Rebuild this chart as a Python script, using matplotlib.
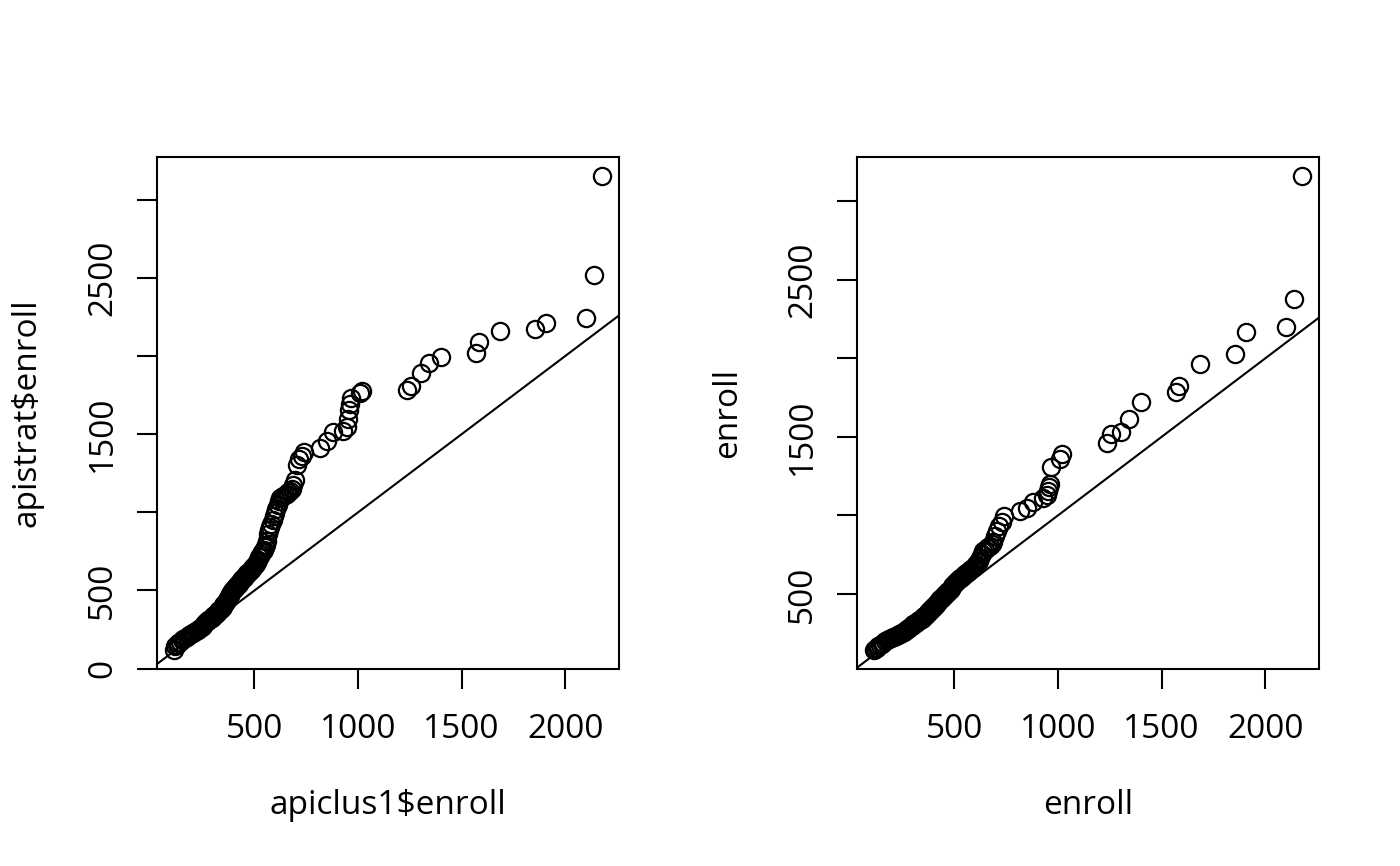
import matplotlib
matplotlib.use("Agg")
import matplotlib.pyplot as plt
from matplotlib.ticker import MultipleLocator, FuncFormatter

# Sorted apiclus1 enrollment (x quantiles, shared by both panels)
x_quant = [
    112, 118, 125, 133, 140, 150, 157, 165, 175, 185,
    195, 202, 210, 218, 225, 232, 238, 245, 250, 256,
    262, 268, 272, 278, 282, 287, 291, 294, 298, 302,
    306, 310, 314, 318, 322, 326, 330, 334, 338, 342,
    346, 350, 354, 358, 362, 366, 370, 373, 376, 380,
    383, 386, 390, 393, 396, 400, 403, 406, 410, 413,
    416, 420, 423, 426, 430, 433, 437, 440, 444, 447,
    451, 455, 458, 462, 466, 470, 474, 478, 482, 486,
    490, 494, 498, 502, 507, 511, 516, 520, 525, 530,
    535, 540, 545, 550, 555, 560, 565, 570, 576, 582,
    588, 594, 600, 606, 612, 618, 625, 632, 640, 648,
    656, 664, 672, 680, 688, 696, 704, 715, 728, 739,
    817, 849, 878, 926, 945, 952, 956, 961, 968, 1009,
    1019, 1238, 1257, 1302, 1341, 1400, 1569, 1582, 1685, 1854,
    1905, 2101, 2141, 2177,
]

# apistrat$enroll quantiles (left panel)
y_strat = [
    119, 142, 150, 166, 172, 180, 187, 195, 203, 212,
    221, 227, 234, 241, 247, 253, 259, 268, 275, 283,
    292, 298, 302, 309, 313, 318, 321, 324, 329, 335,
    340, 346, 351, 357, 361, 366, 372, 378, 384, 389,
    397, 404, 412, 420, 428, 436, 443, 451, 459, 467,
    475, 484, 494, 499, 503, 508, 512, 517, 523, 527,
    531, 539, 544, 550, 557, 562, 569, 574, 579, 583,
    589, 594, 598, 604, 609, 614, 619, 625, 630, 636,
    642, 648, 655, 663, 672, 684, 697, 713, 722, 735,
    745, 752, 762, 775, 790, 815, 860, 890, 905, 928,
    950, 978, 995, 1020, 1045, 1072, 1090, 1098, 1106, 1113,
    1120, 1128, 1135, 1150, 1172, 1204, 1303, 1340, 1362, 1383,
    1412, 1459, 1511, 1518, 1546, 1595, 1654, 1693, 1729, 1762,
    1775, 1783, 1811, 1891, 1954, 1993, 2021, 2090, 2162, 2170,
    2214, 2242, 2518, 3152,
]

# design-weighted enroll quantiles (right panel)
y_svy = [
    142, 150, 158, 170, 176, 183, 188, 198, 205, 212,
    218, 223, 228, 234, 238, 242, 246, 250, 255, 260,
    265, 270, 274, 278, 282, 287, 292, 296, 301, 305,
    309, 312, 316, 320, 324, 328, 332, 335, 339, 342,
    347, 352, 356, 360, 366, 373, 379, 383, 388, 393,
    397, 401, 405, 409, 413, 418, 423, 428, 432, 436,
    440, 446, 452, 458, 464, 468, 472, 475, 480, 484,
    490, 496, 500, 504, 510, 516, 521, 526, 532, 545,
    550, 556, 562, 567, 574, 580, 587, 592, 598, 604,
    608, 614, 620, 626, 630, 634, 638, 643, 650, 656,
    664, 671, 677, 690, 702, 712, 730, 752, 770, 780,
    790, 796, 805, 818, 828, 871, 903, 931, 957, 994,
    1026, 1047, 1086, 1108, 1129, 1155, 1179, 1198, 1308, 1362,
    1388, 1461, 1517, 1528, 1614, 1720, 1787, 1824, 1964, 2026,
    2169, 2197, 2380, 3162,
]

assert len(x_quant) == len(y_strat) == len(y_svy)

SHOWN_Y = {0, 500, 1500, 2500}  # R drops the labels that would overlap


def r_range(vals):
    # R's default 4% axis extension
    lo, hi = min(vals), max(vals)
    pad = 0.04 * (hi - lo)
    return lo - pad, hi + pad


plt.rcParams["font.family"] = ["Open Sans", "DejaVu Sans"]
plt.rcParams["font.size"] = 12

fig = plt.figure(figsize=(7, 4.33), dpi=200)
panels = [
    (0.11214, y_strat, "apiclus1$enroll", "apistrat$enroll"),
    (0.61214, y_svy, "enroll", "enroll"),
]

for left, yvals, xlab, ylab in panels:
    ax = fig.add_axes([left, 0.2275, 0.33, 0.5912])
    ax.plot(x_quant, yvals, "o", mfc="none", mec="black", ms=6.2, mew=0.8)
    ax.axline((0, 0), slope=1, color="black", lw=0.75)
    ax.set_xlim(*r_range(x_quant))
    ax.set_ylim(*r_range(yvals))

    ax.xaxis.set_major_locator(MultipleLocator(500))
    ax.yaxis.set_major_locator(MultipleLocator(500))
    ax.yaxis.set_major_formatter(
        FuncFormatter(lambda v, p: f"{v:.0f}" if round(v) in SHOWN_Y else ""))
    ax.tick_params(direction="out", length=7.2, width=0.75, labelsize=12)
    ax.tick_params(axis="x", pad=8.5)
    ax.tick_params(axis="y", pad=6.5, labelrotation=90)
    for lbl in ax.get_yticklabels():
        lbl.set_va("center")
    for sp in ax.spines.values():
        sp.set_linewidth(0.75)

    ax.set_xlabel(xlab, fontsize=12)
    ax.set_ylabel(ylab, fontsize=12)
    ax.xaxis.set_label_coords(0.5, -0.235)
    ax.yaxis.set_label_coords(-0.245, 0.5)

fig.savefig("out.png", dpi=200)
